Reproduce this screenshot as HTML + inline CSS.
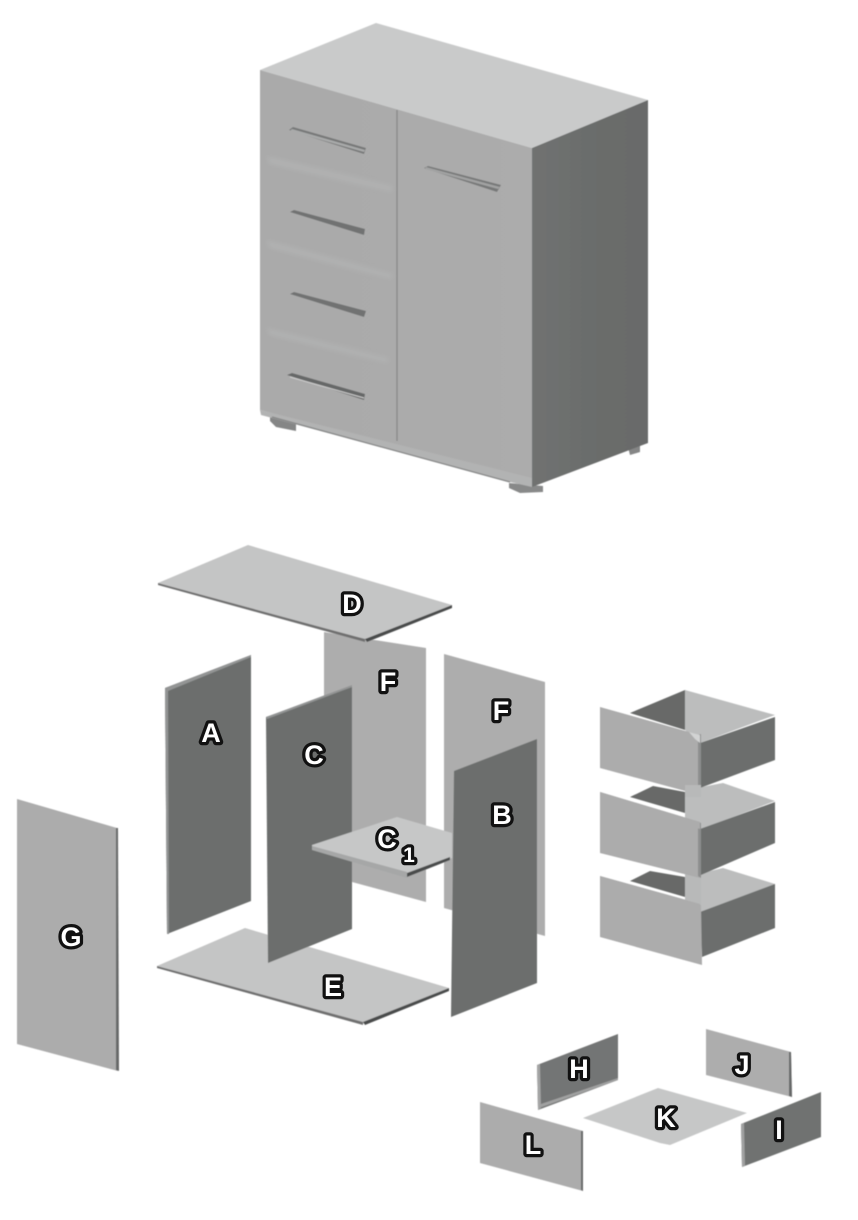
<!DOCTYPE html>
<html><head><meta charset="utf-8"><style>
html,body{margin:0;padding:0;background:#fff;width:858px;height:1220px;overflow:hidden}
svg{display:block}
.l{font-family:"Liberation Sans",sans-serif;font-weight:bold;font-size:27px;fill:#fff;stroke:#111;stroke-width:6.5px;paint-order:stroke;stroke-linejoin:round;text-anchor:middle}
</style></head><body>
<svg width="858" height="1220" viewBox="0 0 858 1220" xmlns="http://www.w3.org/2000/svg">
<defs>
<linearGradient id="sd" x1="0" x2="1" y1="0" y2="0"><stop offset="0" stop-color="#707271"/><stop offset=".5" stop-color="#6b6d6c"/><stop offset="1" stop-color="#696b6a"/></linearGradient>
<linearGradient id="fr" x1="0" x2="1" y1="0" y2="0"><stop offset="0" stop-color="#aaaaaa"/><stop offset="1" stop-color="#acacac"/></linearGradient>
<filter id="b" x="-5%" y="-5%" width="110%" height="110%"><feGaussianBlur stdDeviation=".5"/></filter>
<filter id="b2" x="-5%" y="-30%" width="110%" height="160%"><feGaussianBlur stdDeviation="2"/></filter>
</defs>

<g filter="url(#b)">
<!-- cabinet feet -->
<polygon points="270,417 296,424 296,431 276,427 270,421" fill="#858686"/>
<polygon points="509,483 543,486 543,492 520,493 509,488" fill="#888989"/>
<polygon points="627,443 640,441 640,452 630,455" fill="#858686"/>
<!-- cabinet body -->
<polygon points="260,70 376,23 648,100 532,148" fill="#c9caca"/>
<polygon points="260,70 532,148 532,483 260,410" fill="url(#fr)"/>
<polygon points="532,148 648,100 648,443 532,487" fill="url(#sd)"/>
<polygon points="260,410 532,478 532,487 510,482 261,415" fill="#b2b3b3"/>
<line x1="272" y1="417" x2="510" y2="482" stroke="#858686" stroke-width="1.2"/>
<line x1="397" y1="110" x2="397" y2="441" stroke="#868787" stroke-width="1.2"/>
<!-- drawer seams -->
<polygon points="266,156 392,186 392,192 270,164" fill="#b6b7b7" opacity=".55" filter="url(#b2)"/>
<polygon points="266,240 392,274 392,279 270,248" fill="#b6b7b7" opacity=".55" filter="url(#b2)"/>
<polygon points="266,328 388,358 388,363 270,335" fill="#b6b7b7" opacity=".55" filter="url(#b2)"/>
<!-- handles -->
<polygon points="289,130 293,127 366,148 364,154" fill="#777878"/>
<polygon points="292,129 365,150 364,152 290,131" fill="#a9aaaa"/>
<polygon points="290,212 294,210 365,229 364,235" fill="#717272"/>
<polygon points="290,294 294,292 366,311 364,317" fill="#717272"/>
<polygon points="287,375 292,373 365,394 364,400" fill="#666767"/>
<line x1="290" y1="377" x2="364" y2="398" stroke="#d0d0d0" stroke-width="1"/>
<polygon points="424,168 428,166 501,185 497,192" fill="#777878"/>
<polygon points="426,167 500,187 498,189 425,169" fill="#a2a3a3"/>

<!-- panels -->
<polygon points="324,632 426,648 426,902 352,882 324,875" fill="#adadad"/>
<polygon points="444,654 545,682 545,936 444,908" fill="#adadad"/>
<polygon points="248,545 452,605 365,639 158,583" fill="#c4c5c5"/>
<polygon points="158,583 365,639 365,642 158,585" fill="#6f7070"/>
<polygon points="365,639 452,605 452,608 367,642" fill="#4a4b4b"/>
<polygon points="165,688 251,655 251,901 167,934" fill="#6c6e6d"/>
<polygon points="165,688 251,655 251,657 168,691" fill="#939494"/>
<polygon points="165,688 168,690 169,934 167,934" fill="#939494"/>
<polygon points="245,928 449,988 363,1024 157,966" fill="#c4c5c5"/>
<polygon points="157,966 363,1022 363,1025 157,968" fill="#6f7070"/>
<polygon points="363,1022 449,988 449,991 365,1025" fill="#4a4b4b"/>
<polygon points="266,717 352,687 352,929 268,963" fill="#6c6e6d"/>
<polygon points="266,717 352,685 352,687 267,719" fill="#939494"/>
<polygon points="397,817 452,833 452,858 407,875 312,848 312,845 397,817" fill="#c6c7c7"/>
<polygon points="312,846 407,872 407,878 312,850" fill="#a6a7a7"/>
<polygon points="407,873 450,857 450,860 407,877" fill="#4a4b4b"/>
<polygon points="454,771 537,739 537,983 451,1017" fill="#6c6e6d"/>
<polygon points="17,799 117,828 118,1071 17,1044" fill="#acacac"/>
<polygon points="116,828 118,828 119,1071 116,1070" fill="#666767"/>

<!-- drawer 3 -->
<polygon points="723,868 775,884 775,886 702,912 685,905 685,877" fill="#bcbdbd"/>
<polygon points="630,881 650,871 685,877 685,897" fill="#676968"/>
<polygon points="700,912 775,884 775,928 702,957" fill="#6c6e6d"/>
<polygon points="600,876 701,904 702,965 600,937" fill="#acacac"/>
<!-- drawer 2 -->
<rect x="685" y="790" width="16" height="90" fill="#b8b9b9"/>
<polygon points="723,783 775,801 702,829 685,820 685,790" fill="#bcbdbd"/>
<polygon points="630,797 653,786 685,792 685,813" fill="#676968"/>
<polygon points="600,792 700,822 700,878 600,853" fill="#acacac"/>
<polygon points="700,829 775,802 775,843 701,875" fill="#6c6e6d"/>
<polygon points="698,822 701,823 701,878 698,876" fill="#8d8e8e"/>
<polygon points="685,877 701,880 701,905 685,900" fill="#b8b9b9"/>
<polygon points="600,876 700,904 700,912 600,884" fill="#acacac"/>
<!-- drawer 1 -->
<polygon points="685,690 775,715 700,743 685,730" fill="#bcbdbd"/>
<polygon points="630,713 685,690 685,730" fill="#676968"/>
<polygon points="600,707 700,735 700,795 600,768" fill="#acacac"/>
<polygon points="700,743 775,717 775,760 700,788" fill="#6c6e6d"/>
<polygon points="698,735 701,734 701,795 698,794" fill="#8d8e8e"/>
<polygon points="689,732 700,735 700,743 695,739" fill="#d2d3d3"/>
<rect x="685" y="785" width="16" height="12" fill="#b8b9b9"/>
<polygon points="600,792 700,822 700,829 600,799" fill="#acacac"/>

<!-- small parts -->
<polygon points="537,1065 618,1034 618,1080 538,1110" fill="#737574"/>
<polygon points="537,1065 540,1064 541,1108 538,1110" fill="#a4a5a5"/>
<polygon points="541,1104 618,1078 618,1080 539,1108" fill="#a0a1a1"/>
<polygon points="706,1029 791,1052 792,1097 706,1075" fill="#adadad"/>
<polygon points="789,1052 791,1052 792,1097 789,1096" fill="#666767"/>
<polygon points="658,1088 747,1113 670,1145 660,1143 583,1118" fill="#c6c7c7"/>
<polygon points="480,1102 583,1131 583,1191 480,1163" fill="#acacac"/>
<polygon points="581,1131 583,1131 583,1191 581,1190" fill="#666767"/>
<polygon points="741,1124 821,1092 821,1137 742,1167" fill="#707271"/>
<polygon points="741,1124 744,1123 745,1166 742,1167" fill="#a0a1a1"/>
</g>

<!-- labels -->
<text class="l" x="352" y="613">D</text>
<text class="l" x="388" y="691">F</text>
<text class="l" x="501" y="720">F</text>
<text class="l" x="211" y="742">A</text>
<text class="l" x="314" y="764">C</text>
<text class="l" x="502" y="824">B</text>
<text class="l" x="387" y="848">C</text>
<text class="l" x="409" y="862" style="font-size:21px">1</text>
<text class="l" x="71" y="946">G</text>
<text class="l" x="333" y="996">E</text>
<text class="l" x="579" y="1078">H</text>
<text class="l" x="742" y="1074">J</text>
<text class="l" x="666" y="1127">K</text>
<text class="l" x="779" y="1139">I</text>
<text class="l" x="533" y="1154">L</text>
</svg>
</body></html>
